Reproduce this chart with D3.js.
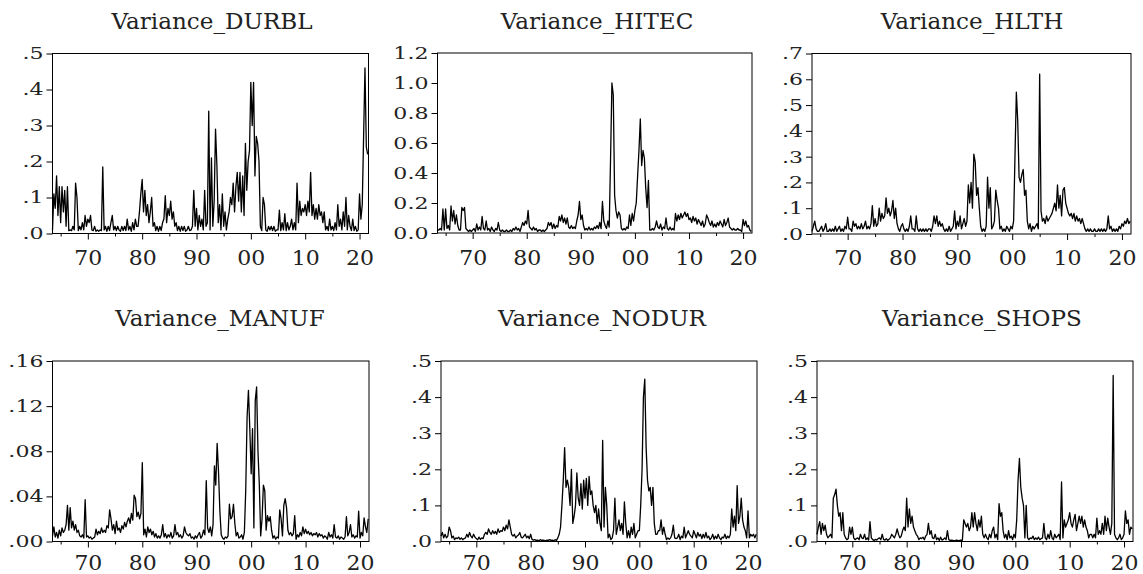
<!DOCTYPE html>
<html><head><meta charset="utf-8">
<script src="https://cdn.jsdelivr.net/npm/d3@7"></script>
<style>body{margin:0;background:#fff}svg{display:block}</style>
</head><body>
<svg id="c" width="1143" height="574"></svg>
<script>
// ---------- data (quarterly observations, first = 1963 Q3) ----------
const START = 1963.5, STEP = 0.25;
const X_START = 1963.5, X_END = 2021.65;

const xTickYears  = [1970, 1980, 1990, 2000, 2010, 2020];
const xTickLabels = ["70", "80", "90", "00", "10", "20"];
const xMinorYears = [1965, 1975, 1985, 1995, 2005, 2015];

const titles = ["Variance_DURBL","Variance_HITEC","Variance_HLTH","Variance_MANUF","Variance_NODUR","Variance_SHOPS"];

const ticksDurbl = [0, 0.1, 0.2, 0.3, 0.4, 0.5];
const labelsDurbl = [".0", ".1", ".2", ".3", ".4", ".5"];
const ticksHitec = [0, 0.2, 0.4, 0.6, 0.8, 1.0, 1.2];
const labelsHitec = ["0.0", "0.2", "0.4", "0.6", "0.8", "1.0", "1.2"];
const ticksHlth = [0, 0.1, 0.2, 0.3, 0.4, 0.5, 0.6, 0.7];
const labelsHlth = [".0", ".1", ".2", ".3", ".4", ".5", ".6", ".7"];
const ticksManuf = [0, 0.04, 0.08, 0.12, 0.16];
const labelsManuf = [".00", ".04", ".08", ".12", ".16"];
const ticksNodur = [0, 0.1, 0.2, 0.3, 0.4, 0.5];
const labelsNodur = [".0", ".1", ".2", ".3", ".4", ".5"];
const ticksShops = [0, 0.1, 0.2, 0.3, 0.4, 0.5];
const labelsShops = [".0", ".1", ".2", ".3", ".4", ".5"];

const durbl = [
 .01,.11,
 .07,.16,.05,.13,  .03,.13,.06,.12,  .02,.13,.008,.01,  .008,.02,.01,.14,
 .10,.008,.02,.01, .03,.01,.05,.02,  .04,.03,.05,.01,   .008,.02,.006,.01,
 .006,.01,.008,.185, .01,.02,.006,.02, .008,.03,.05,.01, .02,.008,.02,.01,
 .006,.02,.008,.02, .008,.04,.01,.02, .006,.03,.01,.04,  .02,.02,.06,.11,
 .15,.06,.12,.05,  .08,.03,.06,.10,  .02,.03,.008,.02,  .006,.02,.008,.03,
 .04,.105,.03,.07, .05,.09,.04,.06,  .02,.03,.008,.02,  .006,.02,.008,.02,
 .006,.01,.02,.008, .01,.02,.12,.02, .07,.01,.05,.02,   .04,.01,.12,.02,
 .03,.34,.01,.21,  .02,.09,.29,.19,  .03,.08,.01,.11,   .02,.06,.01,.04,
 .06,.10,.08,.14,  .06,.13,.17,.09,  .17,.06,.16,.05,   .25,.12,.20,.23,
 .42,.30,.42,.16,  .27,.25,.20,.02,  .008,.10,.08,.01,  .006,.02,.01,.02,
 .008,.02,.006,.01, .01,.065,.008,.03, .01,.055,.008,.03, .01,.02,.04,.01,
 .03,.01,.14,.03,  .09,.05,.07,.06,  .08,.05,.09,.06,   .17,.05,.08,.04,
 .07,.04,.08,.05,  .06,.03,.06,.01,  .02,.008,.04,.01,  .02,.008,.03,.01,
 .08,.02,.04,.01,  .06,.02,.10,.01,  .05,.02,.008,.04,  .008,.02,.006,.01,
 .11,.04,.08,.27,
 .46,.24,.22
];

const hitec = [
 .02,.02,
 .03,.02,.16,.02,  .16,.03,.05,.02,  .18,.08,.15,.06,  .12,.05,.02,.02,
 .17,.15,.17,.03,  .02,.01,.02,.01,  .02,.03,.01,.06,  .02,.04,.02,.11,
 .03,.02,.08,.02,  .03,.01,.04,.02,  .01,.03,.02,.07,  .02,.01,.02,.01,
 .01,.02,.01,.01,  .02,.01,.03,.02,  .04,.02,.03,.01,  .04,.07,.05,.08,
 .06,.15,.04,.03,  .02,.04,.02,.03,  .01,.02,.02,.01,  .02,.01,.02,.03,
 .07,.05,.07,.03,  .06,.03,.05,.04,  .11,.08,.12,.07,  .10,.06,.10,.04,
 .03,.05,.03,.04,  .03,.08,.12,.21,  .09,.12,.05,.02,  .03,.02,.04,.02,
 .03,.02,.04,.03,  .05,.03,.07,.03,  .21,.08,.05,.03,  .08,.04,.50,1.00,
 .92,.25,.15,.10,  .14,.12,.03,.02,  .03,.02,.04,.03,  .12,.05,.13,.08,
 .15,.20,.38,.55,  .76,.45,.55,.50,  .30,.17,.35,.02,  .02,.03,.02,.04,
 .08,.04,.03,.06,  .02,.04,.03,.10,  .03,.02,.04,.02,  .03,.02,.13,.08,
 .12,.09,.13,.10,  .12,.14,.11,.13,  .09,.10,.07,.11,  .08,.10,.06,.09,
 .07,.05,.08,.04,  .06,.12,.10,.07,  .05,.08,.04,.06,  .04,.07,.05,.08,
 .06,.04,.09,.05,  .07,.10,.04,.03,  .02,.03,.02,.02,  .03,.02,.02,.01,
 .09,.05,.08,.04,
 .05,.02,.01
];

const hlth = [
 .01,.03,
 .05,.02,.01,.01,  .02,.03,.01,.02,  .04,.01,.01,.02,  .01,.02,.01,.03,
 .01,.02,.03,.01,  .02,.01,.03,.02,  .065,.02,.02,.01, .05,.03,.04,.02,
 .03,.02,.04,.02,  .03,.05,.02,.03,  .02,.04,.11,.03,  .06,.03,.04,.10,
 .05,.08,.06,.07,  .14,.08,.10,.07,  .09,.13,.06,.10,  .04,.02,.01,.03,
 .04,.02,.01,.02,  .01,.03,.07,.02,  .02,.01,.07,.02,  .01,.02,.01,.02,
 .01,.02,.01,.02,  .02,.01,.03,.07,  .04,.07,.03,.05,  .03,.04,.02,.01,
 .02,.01,.03,.01,  .02,.03,.09,.02,  .05,.03,.07,.02,  .04,.06,.03,.05,
 .19,.12,.20,.10,  .31,.28,.15,.18,  .10,.03,.01,.02,  .01,.03,.22,.10,
 .18,.02,.03,.05,  .17,.13,.10,.02,  .03,.01,.02,.01,  .03,.02,.01,.03,
 .02,.05,.30,.55,  .44,.22,.20,.23,  .25,.15,.17,.05,  .02,.04,.01,.03,
 .02,.03,.04,.02,  .62,.09,.05,.06,  .04,.07,.05,.06,  .07,.08,.10,.12,
 .09,.19,.10,.15,  .07,.17,.18,.12,  .10,.08,.07,.08,  .06,.08,.05,.07,
 .05,.06,.04,.06,  .04,.02,.01,.02,  .01,.02,.01,.01,  .02,.01,.01,.02,
 .01,.02,.01,.02,  .01,.02,.07,.02,  .03,.01,.02,.01,  .02,.01,.03,.02,
 .04,.03,.05,.04,
 .06,.04,.05
];

const manuf = [
 .005,.013,
 .004,.008,.003,.010, .005,.012,.008,.010, .015,.032,.010,.030, .012,.018,.010,.015,
 .008,.010,.005,.004, .006,.003,.037,.004, .005,.003,.004,.002, .003,.004,.011,.006,
 .009,.007,.012,.008, .010,.008,.014,.012, .028,.020,.010,.015, .007,.018,.010,.012,
 .008,.014,.011,.017, .013,.018,.021,.016, .025,.019,.041,.038, .022,.026,.020,.025,
 .070,.006,.011,.004, .013,.008,.011,.006, .009,.004,.007,.003, .005,.003,.006,.015,
 .004,.007,.003,.006, .004,.008,.003,.005, .015,.006,.008,.004, .006,.003,.005,.013,
 .008,.006,.005,.007, .003,.004,.002,.005, .003,.006,.008,.003, .005,.010,.006,.054,
 .012,.008,.013,.005, .015,.067,.050,.087, .062,.027,.006,.003, .002,.004,.003,.005,
 .033,.020,.022,.033, .016,.005,.008,.003, .004,.006,.002,.008, .045,.110,.134,.100,
 .060,.100,.012,.125, .137,.080,.050,.005, .020,.050,.045,.010, .023,.018,.022,.010,
 .003,.005,.002,.004, .003,.028,.020,.005, .032,.038,.030,.010, .006,.008,.005,.007,
 .023,.002,.006,.004, .008,.005,.013,.007, .011,.007,.009,.006, .008,.005,.007,.006,
 .008,.004,.007,.005, .006,.003,.005,.004, .002,.008,.004,.006, .003,.015,.004,.003,
 .005,.002,.004,.003, .002,.004,.022,.005, .008,.015,.004,.006, .003,.005,.004,.027,
 .003,.008,.005,.021,
 .013,.008,.020
];

const nodur = [
 .015,.025,
 .01,.02,.01,.015,   .04,.03,.01,.015,   .005,.01,.008,.012, .006,.01,.005,.008,
 .01,.02,.012,.025,  .015,.01,.02,.012,  .008,.005,.012,.006, .01,.008,.02,.025,
 .02,.035,.025,.02,  .03,.022,.028,.02,  .035,.025,.03,.028,  .04,.03,.045,.035,
 .06,.04,.02,.015,   .02,.01,.015,.018,  .025,.012,.01,.015,  .02,.01,.015,.008,
 .02,.006,.004,.005, .003,.004,.002,.005, .003,.004,.003,.002, .004,.003,.005,.003,
 .004,.002,.005,.003, .01,.02,.04,.10,   .17,.26,.15,.17,    .15,.10,.20,.05,
 .07,.10,.19,.12,    .10,.16,.09,.17,    .12,.175,.10,.18,   .13,.14,.10,.08,
 .10,.05,.09,.05,    .03,.28,.04,.15,    .10,.01,.02,.005,   .01,.03,.12,.02,
 .04,.06,.03,.05,    .02,.11,.05,.01,    .03,.01,.04,.02,    .05,.01,.02,.03,
 .03,.10,.20,.40,    .45,.26,.17,.14,    .15,.10,.15,.05,    .02,.02,.03,.03,
 .06,.02,.04,.02,    .005,.01,.006,.01,  .02,.045,.01,.008,  .01,.02,.005,.015,
 .01,.04,.01,.02,    .03,.02,.015,.01,   .03,.02,.01,.025,   .015,.02,.008,.02,
 .01,.025,.01,.015,  .005,.01,.02,.006,  .015,.008,.02,.01,  .005,.012,.01,.02,
 .008,.015,.01,.02,  .09,.04,.07,.03,    .155,.05,.07,.12,   .06,.04,.03,.01,
 .085,.01,.02,.015,
 .02,.01,.02
];

const shops = [
 .02,.04,
 .055,.02,.05,.03,   .045,.02,.01,.015,  .02,.01,.12,.13,    .145,.10,.07,.08,
 .03,.08,.02,.01,    .005,.008,.04,.02,  .04,.01,.005,.008,  .01,.005,.02,.01,
 .008,.02,.005,.01,  .004,.055,.01,.005, .003,.006,.004,.008, .01,.005,.02,.006,
 .004,.008,.003,.006, .01,.02,.015,.01,  .02,.035,.02,.01,   .015,.03,.04,.03,
 .12,.04,.09,.05,    .07,.04,.03,.02,    .015,.005,.01,.008, .012,.005,.015,.02,
 .05,.02,.03,.01,    .008,.02,.005,.01,  .003,.012,.004,.006, .01,.005,.03,.005,
 .003,.004,.003,.002, .003,.004,.002,.003, .004,.003,.06,.05, .04,.05,.03,.04,
 .08,.04,.08,.05,    .03,.06,.04,.07,    .02,.01,.02,.01,    .005,.02,.01,.03,
 .04,.01,.02,.005,   .105,.07,.08,.03,   .01,.02,.005,.03,   .01,.015,.005,.02,
 .01,.06,.17,.23,    .15,.12,.10,.01,    .10,.01,.005,.01,   .008,.015,.005,.01,
 .006,.012,.005,.008, .01,.05,.01,.005,  .02,.008,.03,.01,   .005,.02,.01,.015,
 .02,.005,.165,.01,  .06,.04,.05,.06,    .08,.05,.04,.06,    .075,.03,.05,.07,
 .05,.07,.04,.06,    .04,.03,.01,.02,    .02,.01,.02,.01,    .065,.02,.03,.02,
 .05,.02,.07,.03,    .065,.04,.02,.05,   .46,.02,.01,.005,   .01,.02,.005,.01,
 .02,.085,.05,.06,
 .02,.04,.035
];

// ---------- layout ----------
const panels = [
  {data: durbl, title: titles[0], ticks: ticksDurbl, labels: labelsDurbl, x0: 52.5, x1: 368.5, y0: 53.5, y1: 233.5, tx: 212, ty: 29},
  {data: hitec, title: titles[1], ticks: ticksHitec, labels: labelsHitec, x0: 437.5, x1: 752, y0: 53, y1: 233, tx: 597, ty: 29},
  {data: hlth,  title: titles[2], ticks: ticksHlth,  labels: labelsHlth,  x0: 812, x1: 1131, y0: 53.5, y1: 234, tx: 972, ty: 29},
  {data: manuf, title: titles[3], ticks: ticksManuf, labels: labelsManuf, x0: 52.5, x1: 369, y0: 361, y1: 541.5, tx: 220, ty: 326},
  {data: nodur, title: titles[4], ticks: ticksNodur, labels: labelsNodur, x0: 441, x1: 757, y0: 361, y1: 541.5, tx: 602, ty: 326},
  {data: shops, title: titles[5], ticks: ticksShops, labels: labelsShops, x0: 817, x1: 1133, y0: 361, y1: 541.5, tx: 982, ty: 326}
];

const FONT = "DejaVu Serif";
const svg = d3.select("#c");

panels.forEach(p => {
  const x = d3.scaleLinear().domain([X_START, X_END]).range([p.x0, p.x1]);
  const y = d3.scaleLinear().domain([0, p.ticks[p.ticks.length - 1]]).range([p.y1, p.y0]);
  const g = svg.append("g");

  const line = d3.line().x((d, i) => x(START + i * STEP)).y(d => y(d));
  g.append("path").datum(p.data).attr("d", line)
    .attr("fill", "none").attr("stroke", "#000").attr("stroke-width", 1.3)
    .attr("stroke-linejoin", "round");

  g.append("rect").attr("x", p.x0).attr("y", p.y0)
    .attr("width", p.x1 - p.x0).attr("height", p.y1 - p.y0)
    .attr("fill", "none").attr("stroke", "#000").attr("stroke-width", 1);

  // y axis
  const ya = g.append("g").attr("transform", `translate(${p.x0},0)`)
    .call(d3.axisLeft(y).tickValues(p.ticks).tickFormat((d, i) => p.labels[i]).tickSize(6).tickPadding(3));
  ya.select(".domain").remove();
  ya.attr("font-family", FONT).attr("font-size", 17);
  ya.selectAll("line").attr("stroke", "#000");
  ya.selectAll("text").attr("x", 0).attr("transform", "translate(-9,0) scale(1.3,1)").attr("fill", "#222");

  // x axis major
  const xa = g.append("g").attr("transform", `translate(0,${p.y1})`)
    .call(d3.axisBottom(x).tickValues(xTickYears).tickFormat((d, i) => xTickLabels[i]).tickSize(6).tickPadding(10));
  xa.select(".domain").remove();
  xa.attr("font-family", FONT).attr("font-size", 20);
  xa.selectAll("line").attr("stroke", "#000");
  xa.selectAll("text").attr("fill", "#222").attr("dy", null)
    .attr("y", null).attr("transform", `translate(0,${(p.y0 < 200 ? 265 : 570) - p.y1}) scale(1.1,1)`);

  // x axis minor
  const xm = g.append("g").attr("transform", `translate(0,${p.y1})`)
    .call(d3.axisBottom(x).tickValues(xMinorYears).tickFormat("").tickSize(3));
  xm.select(".domain").remove();
  xm.selectAll("line").attr("stroke", "#000");

  // title
  g.append("text").attr("transform", `translate(${p.tx},${p.ty}) scale(1.05,1)`)
    .attr("text-anchor", "middle")
    .attr("font-family", FONT).attr("font-size", 22).attr("fill", "#222").text(p.title);
});
</script>
</body></html>
